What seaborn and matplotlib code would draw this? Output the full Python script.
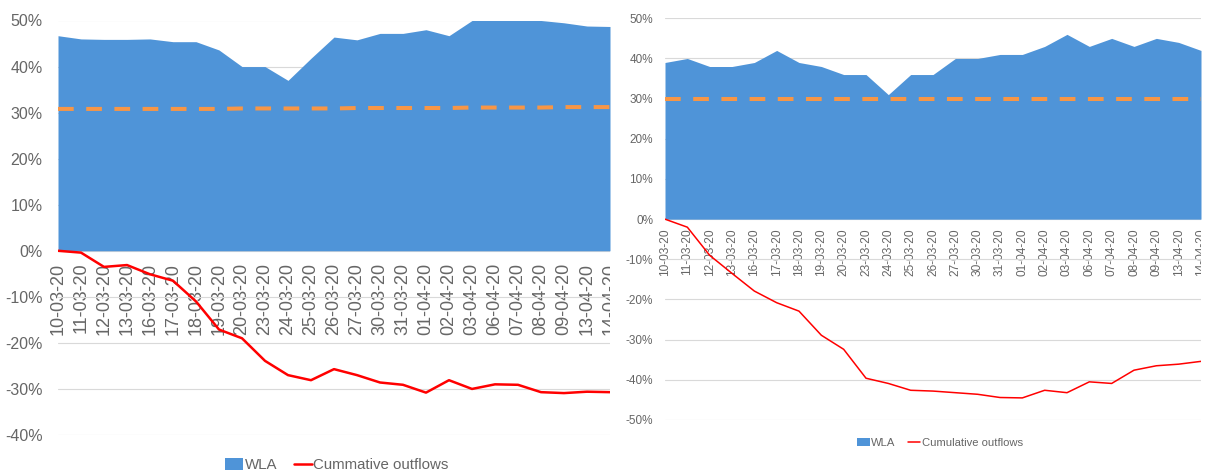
import numpy as np
import pandas as pd
import matplotlib
matplotlib.use("Agg")
import matplotlib.pyplot as plt
from matplotlib.patches import Patch
from matplotlib.lines import Line2D
from matplotlib.transforms import Bbox, TransformedBbox
from matplotlib.ticker import FuncFormatter, MultipleLocator, FixedLocator, FixedFormatter
import seaborn as sns

# ---------------- data ----------------
dates = ["10-03-20", "11-03-20", "12-03-20", "13-03-20", "16-03-20", "17-03-20",
         "18-03-20", "19-03-20", "20-03-20", "23-03-20", "24-03-20", "25-03-20",
         "26-03-20", "27-03-20", "30-03-20", "31-03-20", "01-04-20", "02-04-20",
         "03-04-20", "06-04-20", "07-04-20", "08-04-20", "09-04-20", "13-04-20",
         "14-04-20"]

# left panel (percent)
left_wla = [46.7, 46.0, 45.9, 45.9, 46.0, 45.4, 45.4, 43.6, 40.0, 40.0, 37.0, 41.8,
            46.4, 45.8, 47.2, 47.2, 48.0, 46.7, 50.0, 50.0, 50.1, 50.0, 49.5, 48.8, 48.7]
left_outflows = [0.0, -0.4, -3.5, -3.1, -5.1, -6.5, -11.0, -17.1, -19.0, -23.9, -27.0, -28.1,
                 -25.7, -27.0, -28.6, -29.1, -30.8, -28.1, -30.0, -29.0, -29.1, -30.7,
                 -30.9, -30.6, -30.7]
left_threshold = [30.8, 30.8, 30.8, 30.8, 30.8, 30.8, 30.8, 30.8, 30.9, 30.9, 30.9, 30.9,
                  30.9, 31.0, 31.0, 31.0, 31.0, 31.0, 31.1, 31.1, 31.1, 31.1, 31.2, 31.2, 31.2]

# right panel (percent)
right_wla = [39.0, 40.0, 38.0, 38.0, 39.0, 42.0, 39.0, 38.0, 36.0, 36.0, 31.0, 36.0,
             36.0, 40.0, 40.0, 41.0, 41.0, 43.0, 46.0, 43.0, 45.0, 43.0, 45.0, 44.0, 42.0]
right_outflows = [0.0, -2.0, -9.0, -13.5, -17.9, -20.8, -22.9, -28.9, -32.4, -39.6, -40.9,
                  -42.6, -42.8, -43.2, -43.6, -44.4, -44.5, -42.6, -43.2, -40.5, -40.9,
                  -37.6, -36.5, -36.1, -35.4]
right_threshold = [30.0] * 25

left_legend_labels = ["WLA", "Cummative outflows"]
right_legend_labels = ["WLA", "Cumulative outflows"]

# ---------------- style ----------------
sns.set_theme(style="white")
plt.rcParams["font.family"] = ["Liberation Sans", "DejaVu Sans"]

BLUE = "#4F94D8"
ORANGE = "#F79646"
RED = "#FF0000"
GRID = "#D9D9D9"
TXT = "#666666"

fig = plt.figure(figsize=(12.23, 4.71), dpi=100)

W, H = 1223, 471


def make_axes(x0, x1, ytop, ybot):
    return fig.add_axes([x0 / W, 1 - ybot / H, (x1 - x0) / W, (ybot - ytop) / H])


ax1 = make_axes(58, 610, 20.5, 435)
ax2 = make_axes(665, 1201, 18.3, 420)


def draw_panel(ax, wla, outflows, thr, ylim, xfs, yfs, red_lw, xpad, ypad):
    df = pd.DataFrame({"x": np.arange(len(dates)), "wla": wla,
                       "out": outflows, "thr": thr})
    ax.fill_between(df["x"], 0, df["wla"], color=BLUE, linewidth=0, zorder=2)
    sns.lineplot(data=df, x="x", y="thr", ax=ax, color=ORANGE, linewidth=2.9, zorder=3)
    ln = ax.lines[-1]
    ln.set_dashes((3.9, 3.1))
    ln.set_dash_capstyle("butt")
    sns.lineplot(data=df, x="x", y="out", ax=ax, color=RED, linewidth=red_lw, zorder=4)

    for s in ax.spines.values():
        s.set_visible(False)
    ax.spines["bottom"].set_position(("data", 0))

    ax.set_xlim(0, len(dates) - 1)
    ax.set_ylim(*ylim)
    ax.yaxis.set_major_locator(MultipleLocator(10))
    ax.yaxis.set_major_formatter(FuncFormatter(lambda v, p: f"{int(round(v))}%"))
    ax.xaxis.set_major_locator(FixedLocator(df["x"].tolist()))
    ax.xaxis.set_major_formatter(FixedFormatter(dates))
    ax.set_xlabel("")
    ax.set_ylabel("")
    ax.grid(axis="y", color=GRID, linewidth=0.8)
    ax.grid(axis="x", visible=False)
    ax.set_axisbelow(True)
    ax.tick_params(axis="x", length=0, pad=xpad, labelsize=xfs, labelcolor=TXT,
                   labelrotation=90)
    ax.tick_params(axis="y", length=0, pad=ypad, labelsize=yfs, labelcolor=TXT)


draw_panel(ax1, left_wla, left_outflows, left_threshold, (-40, 50), 13, 11.5, 1.8, 8.6, 11)
draw_panel(ax2, right_wla, right_outflows, right_threshold, (-50, 50), 8.6, 8.5, 1.1, 7, 8.6)


def add_legend(labels, cx, cy, fs, hl, hh, cs, lw):
    handles = [Patch(facecolor=BLUE, edgecolor="none"),
               Line2D([0], [0], color=RED, linewidth=lw)]
    fig.legend(handles, labels, loc="center", bbox_to_anchor=(cx / W, 1 - cy / H),
               ncol=2, frameon=False, fontsize=fs, handlelength=hl, handleheight=hh,
               handletextpad=0.1, columnspacing=cs, labelcolor=TXT, borderpad=0)


add_legend(left_legend_labels, 337, 465, 10.8, 1.2, 0.9, 1.1, 1.8)
add_legend(right_legend_labels, 940, 443, 8.1, 1.15, 0.6, 1.05, 1.1)

# labels are cut off at the right edge of each plot area, as in the source image
fig.canvas.draw()
for ax in (ax1, ax2):
    right = ax.get_position().x1
    left = ax.get_position().x0 - 0.03
    clip = TransformedBbox(Bbox([[left, 0], [right, 1]]), fig.transFigure)
    for lab in ax.get_xticklabels():
        lab.set_clip_box(clip)
        lab.set_clip_on(True)

fig.savefig("out.png", dpi=100)
